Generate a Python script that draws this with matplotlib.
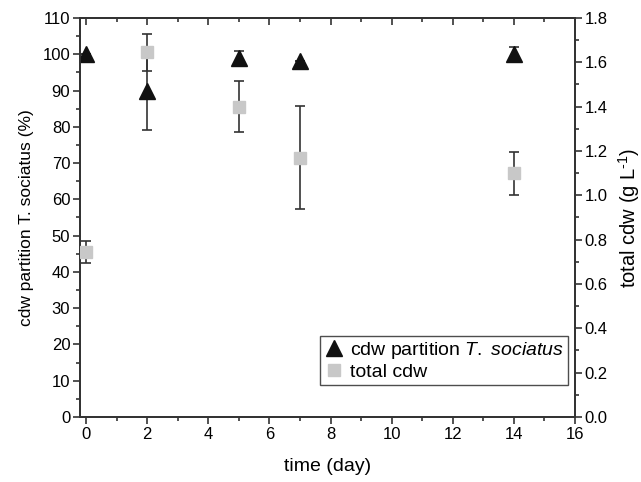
import matplotlib.pyplot as plt
from matplotlib.ticker import MultipleLocator
from matplotlib.lines import Line2D

plt.rcParams['font.family'] = ['Liberation Sans', 'DejaVu Sans']
plt.rcParams['mathtext.fontset'] = 'custom'
plt.rcParams['mathtext.it'] = 'Liberation Sans:italic'
plt.rcParams['mathtext.rm'] = 'Liberation Sans'
plt.rcParams['axes.unicode_minus'] = False

# dados
days = [0, 2, 5, 7, 14]
partition = [100, 90, 99, 98.2, 100]
partition_err = [0, 11, 2, 0, 2]
total_cdw = [0.743, 1.645, 1.40, 1.17, 1.10]
total_cdw_err = [0.05, 0.083, 0.115, 0.232, 0.097]

fig = plt.figure(figsize=(6.41, 4.82), dpi=100)
ax = fig.add_axes([0.1248, 0.1349, 0.7722, 0.8278])
ax2 = ax.twinx()

dark = '#333333'
tri_color = '#111111'
sq_color = '#c8c8c8'
ax.errorbar(days, partition, yerr=partition_err, fmt='^', color=tri_color,
            ms=11, ecolor=dark, elinewidth=1.2, capsize=3.5, capthick=1.2, zorder=3)
ax2.errorbar(days, total_cdw, yerr=total_cdw_err, fmt='s', color=sq_color,
             ms=8, ecolor=dark, elinewidth=1.2, capsize=3.5, capthick=1.2, zorder=3)

ax.set_xlim(-0.2, 16)
ax.set_ylim(0, 110)
ax2.set_ylim(0, 1.8)

ax.xaxis.set_major_locator(MultipleLocator(2))
ax.xaxis.set_minor_locator(MultipleLocator(1))
ax.yaxis.set_major_locator(MultipleLocator(10))
ax.yaxis.set_minor_locator(MultipleLocator(5))
ax2.yaxis.set_major_locator(MultipleLocator(0.2))
ax2.yaxis.set_minor_locator(MultipleLocator(0.1))
ax2.yaxis.set_major_formatter(plt.FormatStrFormatter('%.1f'))

for a in (ax, ax2):
    a.tick_params(which='both', direction='out', labelsize=12, color=dark, width=1.2, pad=2)
    a.tick_params(which='major', length=5)
    a.tick_params(which='minor', length=3)
    for s in a.spines.values():
        s.set_color(dark)
        s.set_linewidth(1.3)

# eixo de cima: ticks para dentro
top = ax.secondary_xaxis('top')
top.xaxis.set_major_locator(MultipleLocator(2))
top.xaxis.set_minor_locator(MultipleLocator(1))
top.tick_params(which='both', direction='in', labeltop=False, color=dark, width=1.2)
top.tick_params(which='major', length=5)
top.tick_params(which='minor', length=3)
top.spines['top'].set_color(dark)
top.spines['top'].set_linewidth(1.3)

ax.set_xlabel('time (day)', fontsize=14, labelpad=12)
ax.set_ylabel('cdw partition T. sociatus (%)', fontsize=12.5, labelpad=6)
ax2.set_ylabel(r'total cdw (g L$^{\text{-1}}$)', fontsize=14.5, labelpad=6)

handles = [Line2D([], [], ls='none', marker='^', ms=11, color=tri_color),
           Line2D([], [], ls='none', marker='s', ms=8, color=sq_color)]
labels = [r'cdw partition $\mathit{T.\ sociatus}$', 'total cdw']
leg = ax2.legend(handles, labels, loc='lower right', bbox_to_anchor=(0.985, 0.08),
                 fontsize=14, frameon=True, fancybox=False, edgecolor='#222222',
                 handletextpad=0.3, borderpad=0.2, labelspacing=0.15, handlelength=1.0,
                 borderaxespad=0)
leg.get_frame().set_linewidth(1.0)

fig.savefig('out.png', dpi=100)
